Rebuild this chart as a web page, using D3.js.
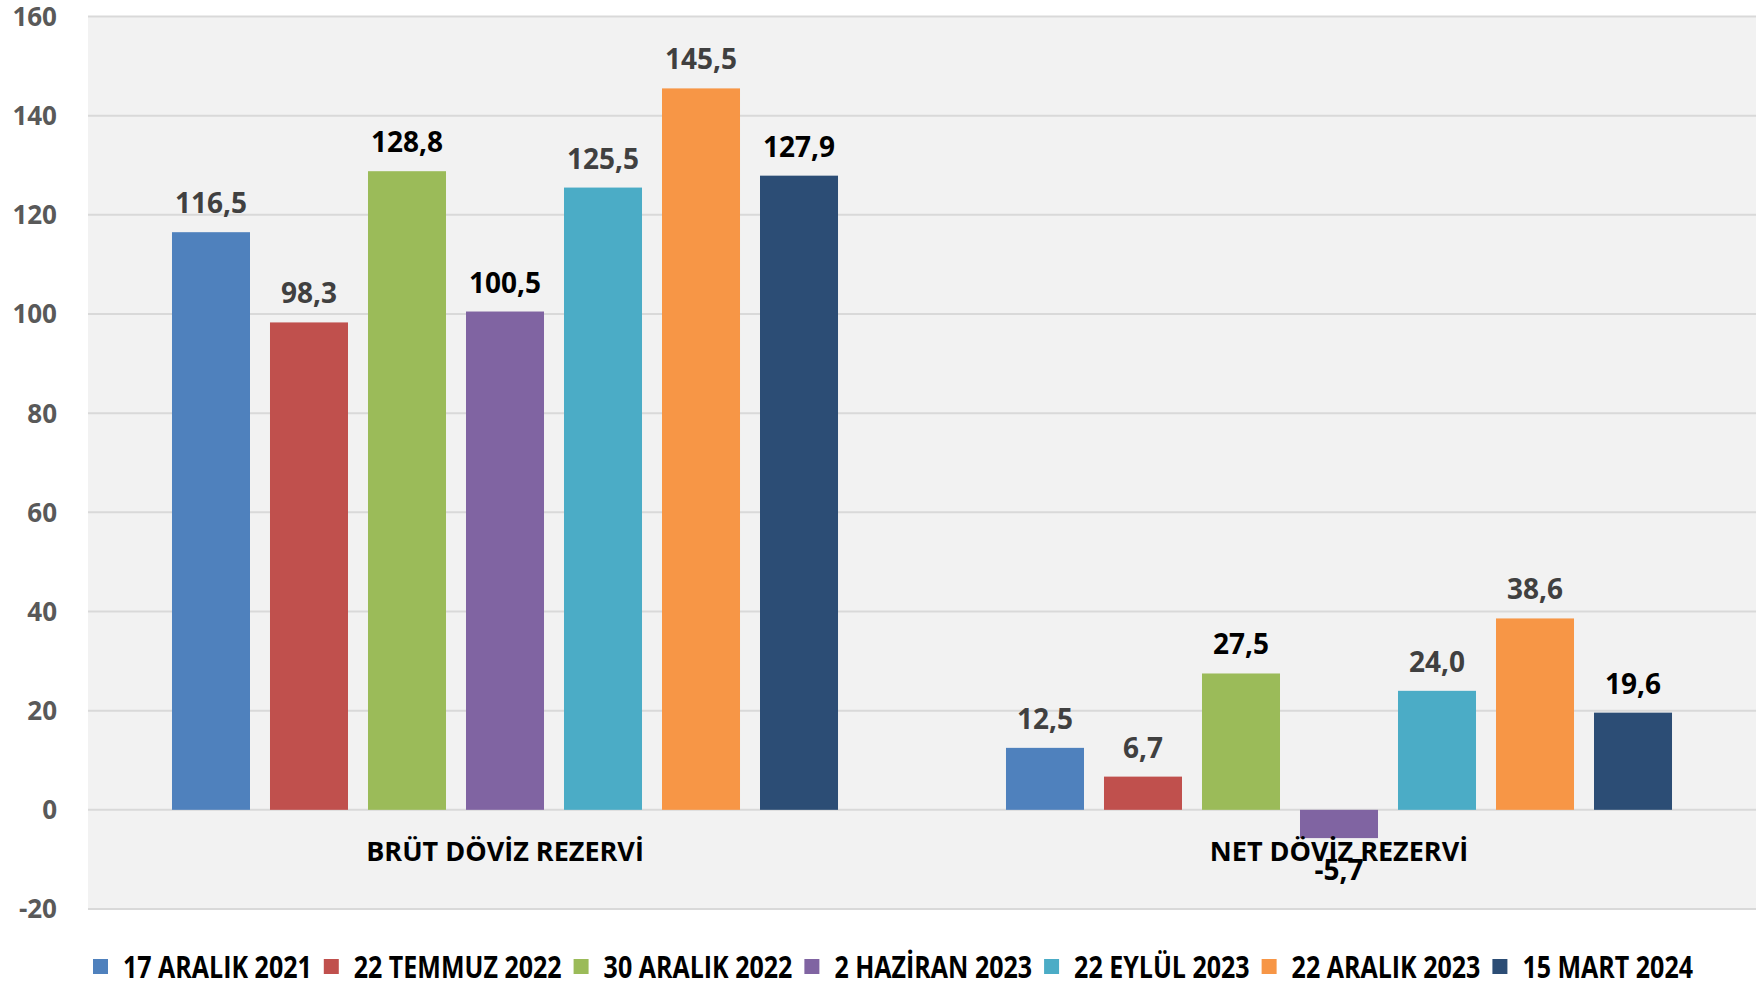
<!DOCTYPE html>
<html><head><meta charset="utf-8">
<script src="https://cdn.jsdelivr.net/npm/d3@7"></script>
<style>body{margin:0;background:#fff}svg{display:block}text{font-family:"Open Sans",sans-serif;font-weight:700}</style>
</head><body>
<svg id="c" width="1763" height="983"></svg>
<script>
const categories = ["BRÜT DÖVİZ REZERVİ", "NET DÖVİZ REZERVİ"];
const seriesNames = ["17 ARALIK 2021","22 TEMMUZ 2022","30 ARALIK 2022","2 HAZİRAN 2023","22 EYLÜL 2023","22 ARALIK 2023","15 MART 2024"];
const brutValues = [116.5, 98.3, 128.8, 100.5, 125.5, 145.5, 127.9];
const netValues = [12.5, 6.7, 27.5, -5.7, 24.0, 38.6, 19.6];
const yTicks = [-20, 0, 20, 40, 60, 80, 100, 120, 140, 160];
const colors = ["#4f81bd","#c0504d","#9bbb59","#8064a2","#4bacc6","#f79646","#2c4d75"];
const labelColors = ["#404040","#404040","#000000","#000000","#404040","#404040","#000000"];

const valuesByCat = [brutValues, netValues];
const svg = d3.select("#c");
const L = 88, R = 1756, T = 16.5, B = 909;

const y = d3.scaleLinear().domain([-20,160]).range([B,T]);
const x0 = d3.scaleBand().domain(categories).range([L,R]).paddingInner(0).paddingOuter(0);
const x1 = d3.scaleBand().domain(seriesNames).range([0,x0.bandwidth()]).paddingInner(0.204).paddingOuter(0.857);

svg.append("rect").attr("x",L).attr("y",T).attr("width",R-L).attr("height",B-T).attr("fill","#f2f2f2");

svg.append("g").selectAll("line").data(yTicks).join("line")
  .attr("x1",L).attr("x2",R).attr("y1",d=>y(d)).attr("y2",d=>y(d))
  .attr("stroke","#d9d9d9").attr("stroke-width",2);

svg.append("g").selectAll("text").data(yTicks).join("text")
  .attr("x",57).attr("y",d=>y(d)).attr("dy","0.36em").attr("text-anchor","end")
  .attr("font-size",26).attr("fill","#595959").text(d=>d);

const flat = [];
categories.forEach((c,ci)=>seriesNames.forEach((s,si)=>flat.push({c,s,si,v:valuesByCat[ci][si]})));

svg.append("g").selectAll("rect").data(flat).join("rect")
  .attr("x",d=>x0(d.c)+x1(d.s)).attr("width",x1.bandwidth())
  .attr("y",d=>y(Math.max(0,d.v))).attr("height",d=>Math.abs(y(d.v)-y(0)))
  .attr("fill",d=>colors[d.si]);

// category labels
svg.append("g").selectAll("text").data(categories).join("text")
  .attr("x",d=>x0(d)+x0.bandwidth()/2).attr("y",861).attr("text-anchor","middle")
  .attr("font-size",27).attr("fill","#000").text(d=>d);

const fmt = v => v.toFixed(1).replace(".",",");
svg.append("g").selectAll("text").data(flat).join("text")
  .attr("x",d=>x0(d.c)+x1(d.s)+x1.bandwidth()/2)
  .attr("y",d=>d.v>=0 ? y(d.v)-19 : y(d.v)+42)
  .attr("text-anchor","middle").attr("font-size",28)
  .attr("fill",d=>labelColors[d.si]).text(d=>fmt(d.v));

// legend
const lg = svg.append("g");
const fs = 30, sq = 15, gapSq = 15, gapItem = 12, targetText = 1318;
const items = lg.selectAll("g").data(seriesNames).join("g");
items.append("rect").attr("width",sq).attr("height",sq).attr("y",959).attr("fill",(d,i)=>colors[i]);
const texts = items.append("text").attr("y",978).attr("font-size",fs).attr("fill","#000").text(d=>d);
const widths = [];
texts.each(function(){widths.push(this.getComputedTextLength());});
const k = targetText / d3.sum(widths);
let cx = 93;
items.each(function(d,i){
  const g = d3.select(this);
  g.select("rect").attr("x",cx);
  const w = widths[i]*k;
  g.select("text").attr("x",cx+sq+gapSq).attr("textLength",w).attr("lengthAdjust","spacingAndGlyphs");
  cx += sq+gapSq+w+gapItem;
});
</script>
</body></html>
